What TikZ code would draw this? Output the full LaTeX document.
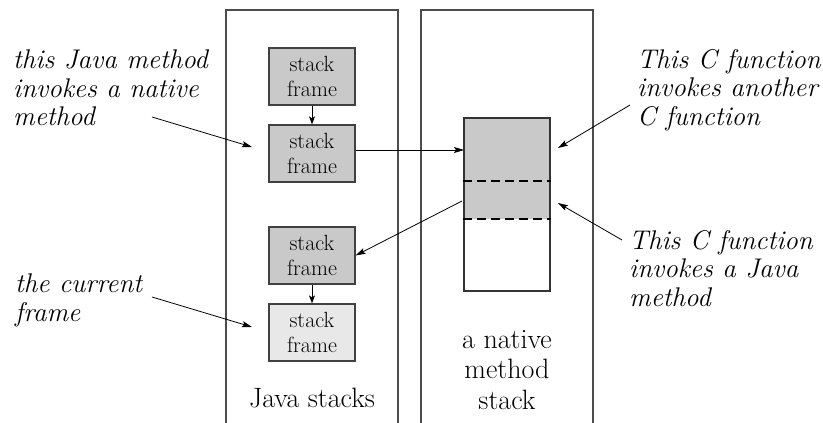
\documentclass[tikz,border=0pt]{standalone}
\usetikzlibrary{arrows.meta}

\begin{document}
\begin{tikzpicture}[x=1pt,y=-1pt,
    stackframe/.style={draw=black!75, line width=1.2pt, fill=black!21, minimum width=86pt, minimum height=57pt, inner sep=0pt, align=center, font=\fontsize{22}{25}\selectfont},
    curframe/.style={stackframe, fill=black!9},
    note/.style={anchor=north west, inner sep=0pt, align=left, font=\fontsize{27}{28.5}\selectfont\itshape},
    panel/.style={draw=black!70, line width=1.3pt},
    ptr/.style={-{Stealth[length=10pt,width=6pt,inset=2pt]}, line width=0.8pt},
    link/.style={-{Stealth[length=8pt,width=6pt,inset=2pt]}, line width=1pt},
    cbound/.style={line width=2pt, dash pattern=on 9pt off 5pt}
  ]
        \useasboundingbox (0,0) rectangle (823,423);
        % the two stacks, open at the bottom
        \draw[panel] (226,423) -- (226,10) -- (398,10) -- (398,423);
        \draw[panel] (421,423) -- (421,10) -- (593,10) -- (593,423);
        \node[font=\fontsize{28}{30.5}\selectfont, anchor=base] (jlabel) at (312,407) {Java stacks};
        \node[font=\fontsize{28}{30.5}\selectfont, align=center, anchor=north, inner sep=0pt] (nlabel) at (507,330) {a native\\method\\stack};
        % Java stack frames
        \node[stackframe] (jf1) at (312,76.5) {stack\\frame};
        \node[stackframe] (jf2) at (312,153.5) {stack\\frame};
        \node[stackframe] (jf3) at (312,255.5) {stack\\frame};
        \node[curframe] (jf4) at (312,332.5) {stack\\frame};
        \draw[link] (jf1) -- (jf2);
        \draw[link] (jf3) -- (jf4);
        % native method stack
        \fill[black!21] (464,118) rectangle (550,219);
        \node[draw=black!80, line width=1.2pt, minimum width=86pt, minimum height=173pt, inner sep=0pt] (nms) at (507,204.5) {};
        \draw[cbound] (nms.west |- 0,181) -- (nms.east |- 0,181);
        \draw[cbound] (nms.west |- 0,219) -- (nms.east |- 0,219);
        \coordinate (cin) at (464,150);
        \coordinate (cout) at (462,201);
        \draw[ptr] (jf2.east |- cin) -- (cin);
        \draw[ptr] (cout) -- (jf3.east);
        % notes
        \node[note] (jnote) at (13,50) {this Java method\\invokes a native\\method};
        \node[note] (curnote) at (15,274) {the current\\frame};
        \node[note] (cnote) at (637,49) {This C function\\invokes another\\C function};
        \node[note] (jcnote) at (629,230) {This C function\\invokes a Java\\method};
        \coordinate (jn1) at (152,117);
        \coordinate (jn2) at (252,147);
        \coordinate (cur1) at (152,297);
        \coordinate (cur2) at (252,327);
        \coordinate (cn1) at (630,105);
        \coordinate (cn2) at (558,148);
        \coordinate (jc1) at (622,240);
        \coordinate (jc2) at (558,203);
        \draw[ptr] (jn1) -- (jn2);
        \draw[ptr] (cur1) -- (cur2);
        \draw[ptr] (cn1) -- (cn2);
        \draw[ptr] (jc1) -- (jc2);
    \end{tikzpicture}
\end{document}
